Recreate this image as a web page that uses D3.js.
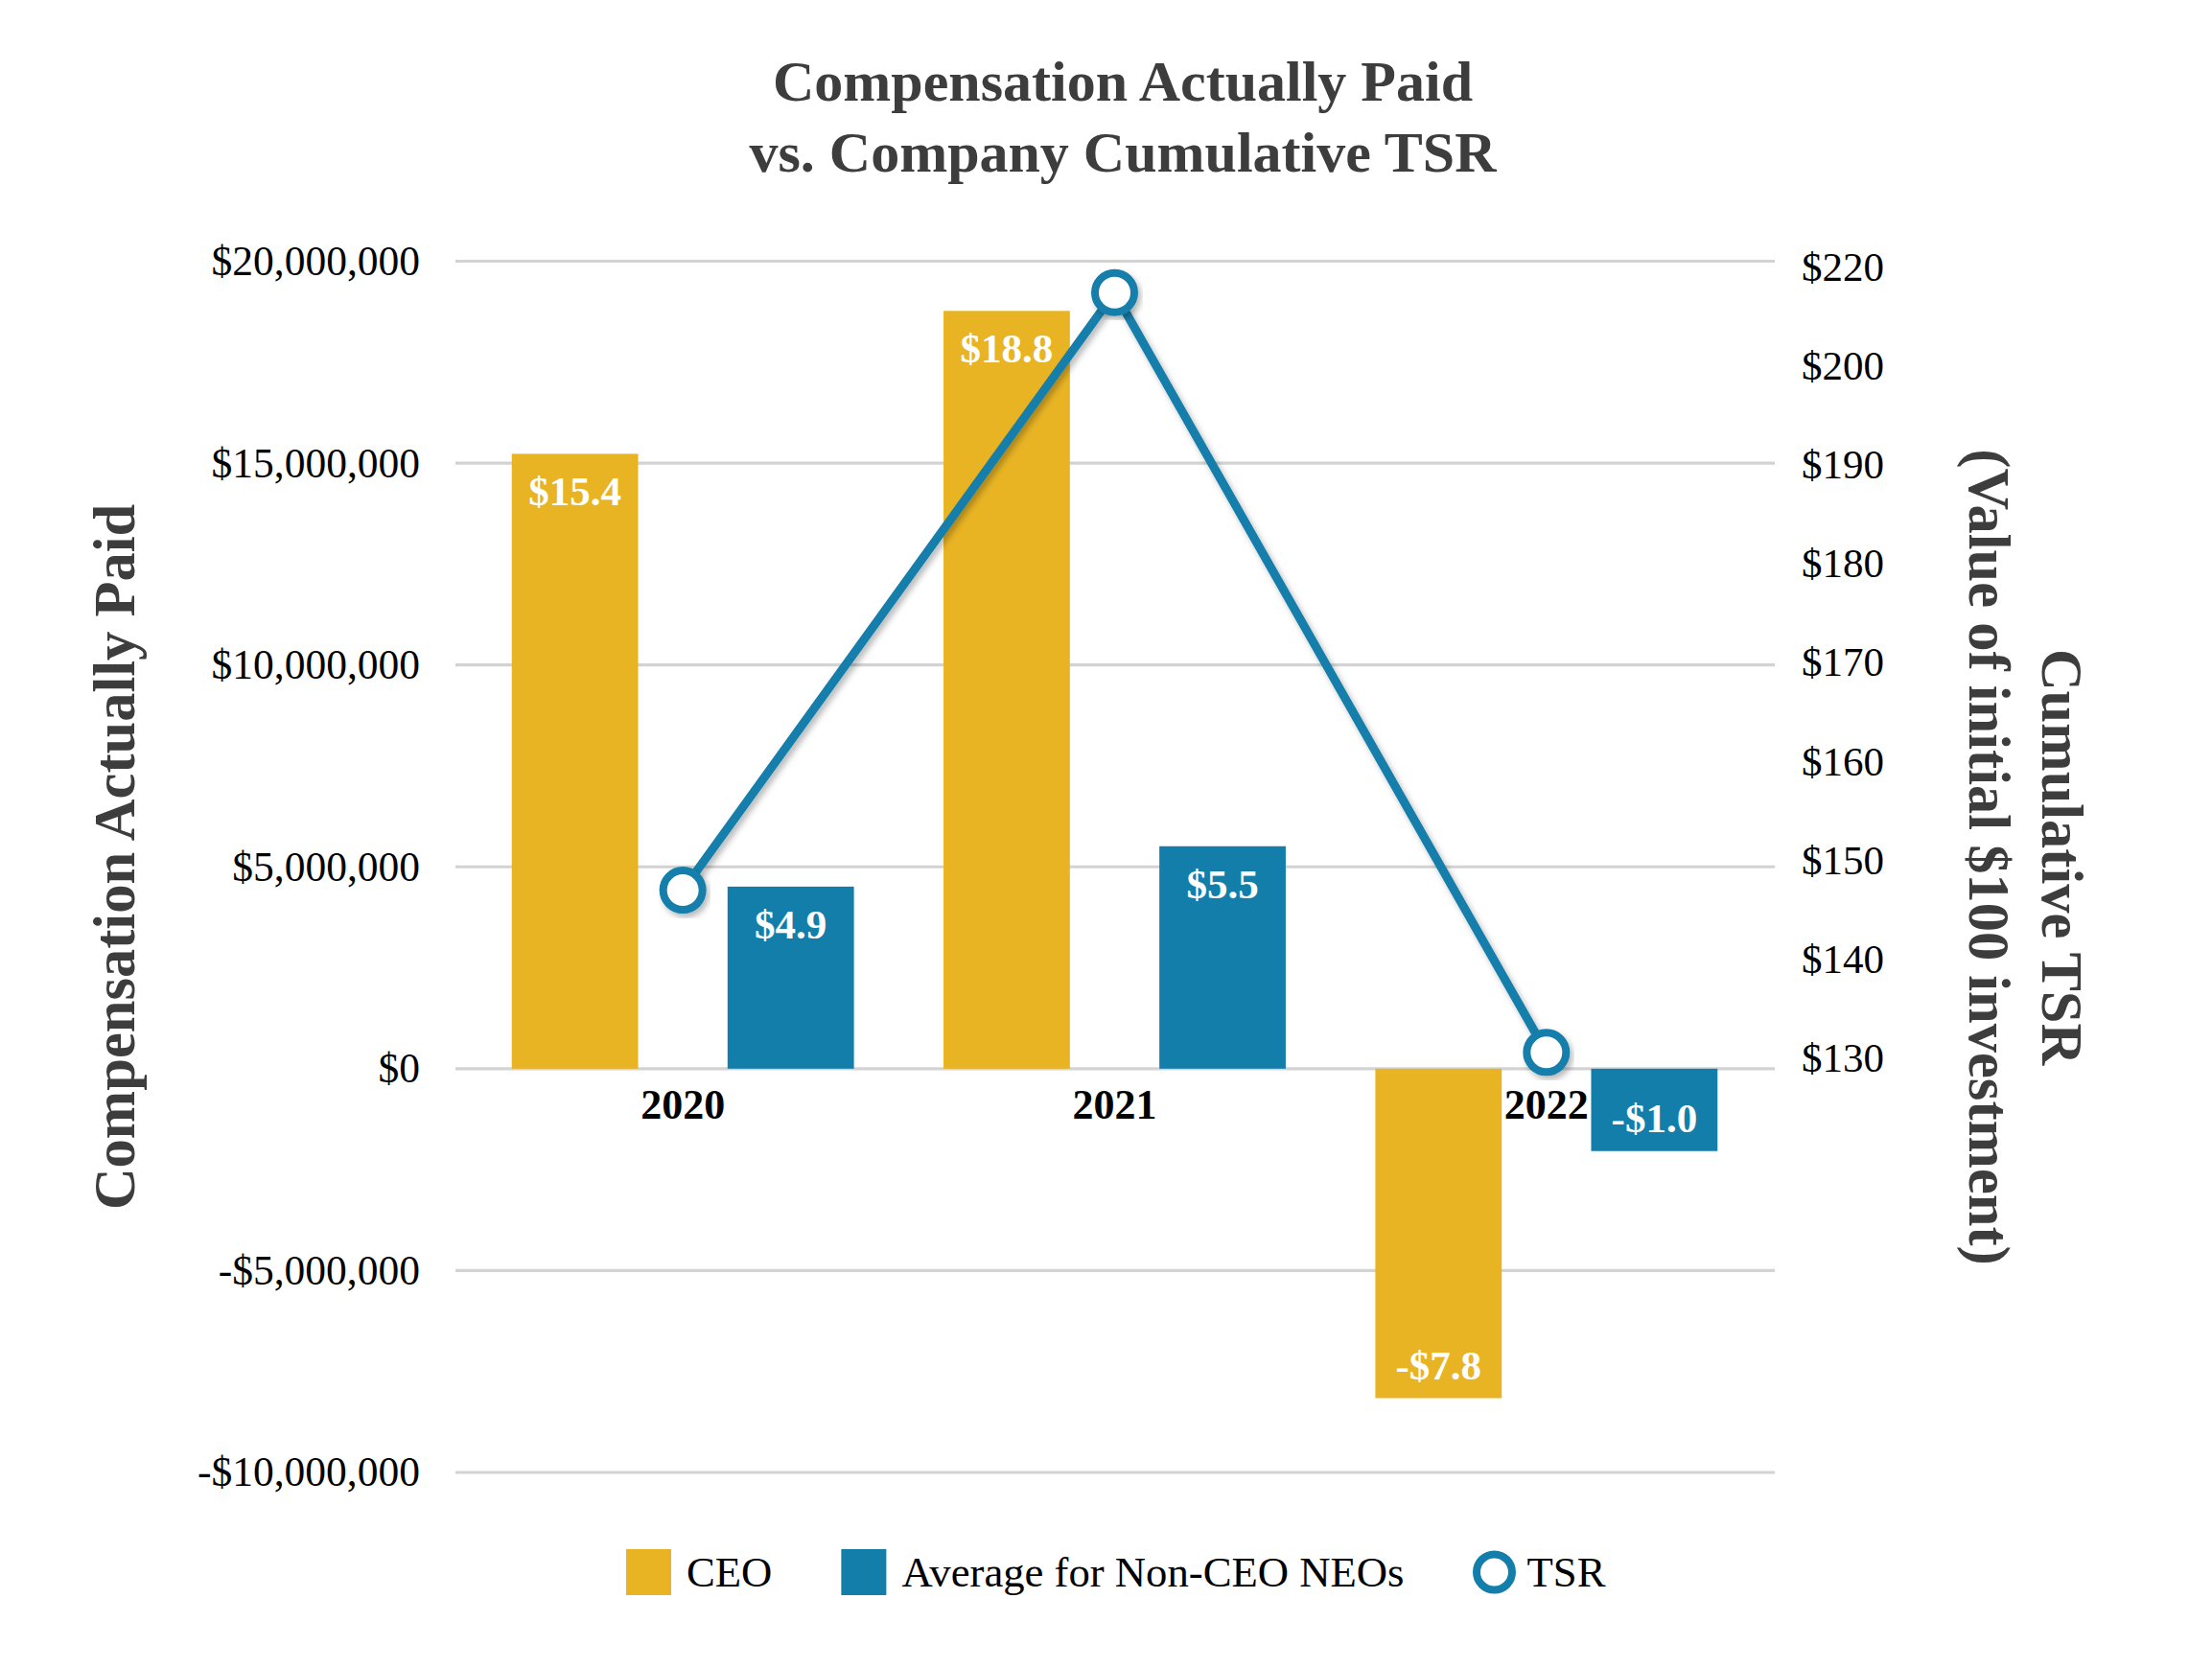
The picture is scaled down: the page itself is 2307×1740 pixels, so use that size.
<!DOCTYPE html>
<html>
<head>
<meta charset="utf-8">
<script src="https://cdn.jsdelivr.net/npm/d3@7"></script>
<style>
  html, body { margin: 0; padding: 0; background: #ffffff; }
  svg { display: block; font-family: "Liberation Serif", "Times New Roman", serif; }
</style>
</head>
<body>
<svg id="chart" width="2307" height="1740"></svg>
<script>
// ---------------- data ----------------
const years = ["2020", "2021", "2022"];
const seriesKeys = ["CEO", "NEO"];
const seriesNames = ["CEO", "Average for Non-CEO NEOs", "TSR"];
// compensation actually paid, $ millions (bar heights as drawn)
const ceoValues = [15.23, 18.77, -8.16];
const neoValues = [4.51, 5.51, -2.04];
// printed data labels
const ceoLabels = ["$15.4", "$18.8", "-$7.8"];
const neoLabels = ["$4.9", "$5.5", "-$1.0"];
// cumulative TSR (value of initial $100)
const tsrValues = [147.0, 214.8, 130.6];
const leftTicks = [-10e6, -5e6, 0, 5e6, 10e6, 15e6, 20e6];
const rightTicks = [130, 140, 150, 160, 170, 180, 190, 200, 220];
const titleLines = ["Compensation Actually Paid", "vs. Company Cumulative TSR"];
const leftTitle = "Compensation Actually Paid";
const rightTitleLines = ["Cumulative TSR", "(Value of initial $100 investment)"];

// ---------------- style ----------------
const GOLD = "#E9B424";
const BLUE = "#137EAA";
const GRID = "#D3D3D3";
const DARK = "#3d3d3d";

const svg = d3.select("#chart");
const W = 2307, H = 1740;
svg.append("rect").attr("width", W).attr("height", H).attr("fill", "#fff");

const defs = svg.append("defs");
const f = defs.append("filter").attr("id", "shadow")
  .attr("x", "-10%").attr("y", "-10%").attr("width", "130%").attr("height", "130%");
f.append("feDropShadow").attr("dx", 3).attr("dy", 4).attr("stdDeviation", 3)
  .attr("flood-color", "#000").attr("flood-opacity", 0.28);

// plot frame
const plotLeft = 475, plotRight = 1851;
const yTop = 272.5, yBottom = 1536;

const y = d3.scaleLinear().domain([-10e6, 20e6]).range([yBottom, yTop]);
const x0 = d3.scaleBand().domain(years).range([487, 1838])
  .paddingInner(0.2075).paddingOuter(0.10375);
const x1 = d3.scaleBand().domain(seriesKeys).range([0, x0.bandwidth()])
  .paddingInner(0.4144).paddingOuter(0);

// right axis: tick labels evenly spaced (as in source chart)
const r130 = 1104, rStep = 103.2;
const yR = d3.scaleLinear().domain([130, 200, 220])
  .range([r130, r130 - 7 * rStep, r130 - 8 * rStep]);

const fmtLocale = d3.formatLocale({decimal: ".", thousands: ",", grouping: [3], currency: ["$", ""], minus: "-"});
const fmtMoney = fmtLocale.format("$,.0f");

// ---------------- gridlines ----------------
svg.append("g").selectAll("line").data(leftTicks).join("line")
  .attr("x1", plotLeft).attr("x2", plotRight)
  .attr("y1", d => y(d)).attr("y2", d => y(d))
  .attr("stroke", GRID).attr("stroke-width", 3.2);

// ---------------- left axis ----------------
const gL = svg.append("g").attr("transform", `translate(438,0)`)
  .call(d3.axisLeft(y).tickValues(leftTicks).tickFormat(fmtMoney).tickSize(0).tickPadding(0));
gL.select(".domain").remove();
gL.selectAll("text").attr("font-family", "Liberation Serif").attr("font-size", 43.5).attr("fill", "#000");

// ---------------- right axis ----------------
const gR = svg.append("g").attr("transform", `translate(1879,0)`)
  .call(d3.axisRight(yR).tickValues(rightTicks).tickFormat(d => "$" + d).tickSize(0).tickPadding(0));
gR.select(".domain").remove();
gR.selectAll("text").attr("font-family", "Liberation Serif").attr("font-size", 43).attr("fill", "#000");

// ---------------- bars ----------------
const rows = years.map((yr, i) => ({
  year: yr,
  items: [
    {key: "CEO", v: ceoValues[i] * 1e6, label: ceoLabels[i], color: GOLD},
    {key: "NEO", v: neoValues[i] * 1e6, label: neoLabels[i], color: BLUE}
  ]
}));

const groups = svg.append("g").selectAll("g").data(rows).join("g")
  .attr("transform", d => `translate(${x0(d.year)},0)`);

groups.selectAll("rect").data(d => d.items).join("rect")
  .attr("x", d => x1(d.key))
  .attr("width", x1.bandwidth())
  .attr("y", d => Math.min(y(d.v), y(0)))
  .attr("height", d => Math.abs(y(d.v) - y(0)))
  .attr("fill", d => d.color);

groups.selectAll("text.val").data(d => d.items).join("text")
  .attr("class", "val")
  .attr("x", d => x1(d.key) + x1.bandwidth() / 2)
  .attr("y", d => d.v >= 0 ? y(d.v) + 54 : y(d.v) - 20)
  .attr("text-anchor", "middle")
  .attr("font-size", 43).attr("font-weight", "bold").attr("fill", "#fff")
  .text(d => d.label);

// ---------------- category axis ----------------
const gX = svg.append("g").attr("transform", `translate(0,${y(0)})`)
  .call(d3.axisBottom(x0).tickSize(0).tickPadding(21));
gX.select(".domain").remove();
gX.selectAll("text").attr("font-family", "Liberation Serif").attr("font-size", 44)
  .attr("font-weight", "bold").attr("fill", "#000");

// ---------------- TSR line ----------------
const tsrPts = years.map((yr, i) => ({x: x0(yr) + x0.bandwidth() / 2, y: yR(tsrValues[i])}));
const line = d3.line().x(d => d.x).y(d => d.y);
svg.append("path").datum(tsrPts)
  .attr("d", line).attr("fill", "none").attr("stroke", BLUE)
  .attr("stroke-width", 9).attr("stroke-linejoin", "round")
  .attr("filter", "url(#shadow)");
svg.append("g").selectAll("circle").data(tsrPts).join("circle")
  .attr("cx", d => d.x).attr("cy", d => d.y).attr("r", 20.5)
  .attr("fill", "#fff").attr("stroke", BLUE).attr("stroke-width", 8)
  .attr("filter", "url(#shadow)");

// ---------------- titles ----------------
const title = svg.append("text").attr("text-anchor", "middle")
  .attr("font-size", 60).attr("font-weight", "bold").attr("fill", DARK);
titleLines.forEach((t, i) => title.append("tspan").attr("x", 1171).attr("y", 105 + i * 74).text(t));

svg.append("text")
  .attr("transform", `translate(119,894) rotate(-90)`)
  .attr("text-anchor", "middle").attr("dy", "0.35em")
  .attr("font-size", 60.5).attr("font-weight", "bold").attr("fill", DARK)
  .text(leftTitle);

const rtX = [2151, 2075];
rightTitleLines.forEach((t, i) => {
  svg.append("text")
    .attr("transform", `translate(${rtX[i]},894) rotate(90)`)
    .attr("text-anchor", "middle").attr("dy", "0.35em")
    .attr("font-size", 60.5).attr("font-weight", "bold").attr("fill", DARK)
    .text(t);
});

// ---------------- legend ----------------
const legend = svg.append("g");
const legendColors = [GOLD, BLUE, BLUE];
let lx = 653;
const ly = 1640;
seriesNames.forEach((name, i) => {
  if (i < 2) {
    legend.append("rect").attr("x", lx).attr("y", ly - 24).attr("width", 47).attr("height", 48)
      .attr("fill", legendColors[i]);
    lx += 47 + 16;
  } else {
    legend.append("circle").attr("cx", lx + 22).attr("cy", ly).attr("r", 18.5)
      .attr("fill", "#fff").attr("stroke", legendColors[i]).attr("stroke-width", 8);
    lx += 44 + 12;
  }
  const t = legend.append("text").attr("x", lx).attr("y", ly + 15)
    .attr("font-size", 44.7).attr("fill", "#000").text(name);
  lx += t.node().getComputedTextLength() + 72;
});
</script>
</body>
</html>
